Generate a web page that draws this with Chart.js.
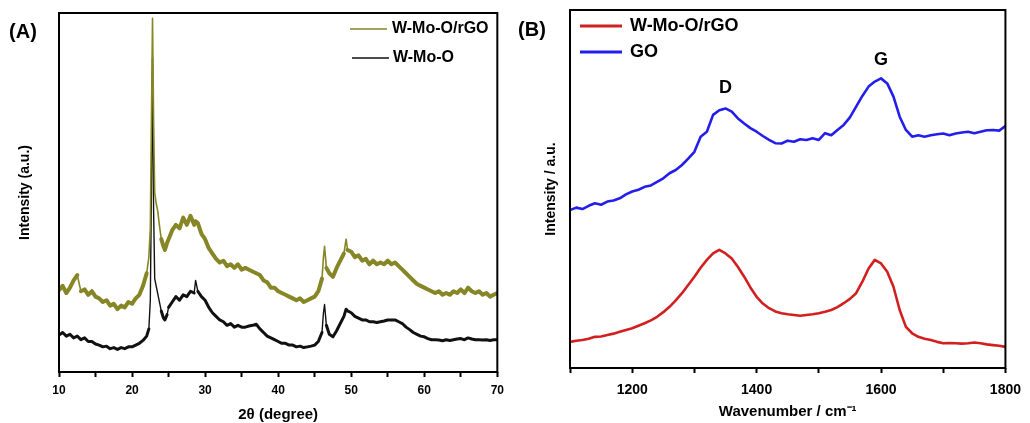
<!DOCTYPE html>
<html>
<head>
<meta charset="utf-8">
<script src="https://cdn.jsdelivr.net/npm/chart.js@4.4.0/dist/chart.umd.min.js"></script>
<style>
  html, body { margin: 0; padding: 0; background: #fff; }
  #wrap { position: relative; width: 1030px; height: 423px; overflow: hidden; }
  canvas { position: absolute; top: 0; }
</style>
</head>
<body>
<div id="wrap">
  <canvas id="xrd" width="510" height="423" style="left:0"></canvas>
  <canvas id="raman" width="520" height="423" style="left:510px"></canvas>
</div>
<script>
// ---- (A) XRD data, 2theta in degrees, intensity in arbitrary units ----
const xA = [
  10, 10.5, 11, 11.5, 12, 12.5, 13, 13.5, 14, 14.5, 15, 15.5, 16, 16.5, 17, 17.5, 18, 18.5, 19, 19.5, 20, 20.5, 21, 21.5, 22,
  22.3, 22.5, 22.65, 22.8, 22.95, 23.1, 23.3, 23.5, 23.8, 24, 24.3, 24.5, 24.8, 25,
  25.5, 26, 26.5, 27, 27.5, 28, 28.5, 28.7,
  29, 29.5, 30, 30.5, 31, 31.5, 32, 32.5, 33, 33.5, 34, 34.5, 35, 35.5, 36, 36.5, 37, 37.5, 38, 38.5, 39, 39.5, 40, 40.5, 41, 41.5, 42, 42.5, 43, 43.5, 44, 44.5, 45, 45.5, 46,
  46.2, 46.35, 46.6, 47, 47.5, 48, 48.5, 49, 49.3, 49.5, 50,
  50.5, 51, 51.5, 52, 52.5, 53, 53.5, 54, 54.5, 55, 55.5, 56, 56.5, 57, 57.5, 58, 58.5, 59, 59.5, 60, 60.5, 61, 61.5, 62, 62.5, 63, 63.5, 64, 64.5, 65, 65.5, 66, 66.5, 67, 67.5, 68, 68.5, 69, 69.5, 70
];
const rgoA = [
  22.8, 24, 22, 23.5, 25.5, 27, 22.5, 23, 21.5, 22.5, 21, 20.5, 19.5, 20, 18.5, 19, 17.5, 18.5, 18, 19.5, 19, 20.5, 21.5, 24, 27.5,
  32, 40, 70, 98.5, 70, 50, 47, 45, 40, 37, 35, 34, 36, 37,
  39.5, 41, 40, 43, 41, 43.5, 41, 42,
  41.5, 38.5, 37, 34.5, 33, 31.5, 30.5, 31, 29.5, 30, 29, 30, 28.5, 29, 28.5, 28, 27.5, 27, 25.5, 25, 23.5, 23.5, 22.5, 22, 21.5, 21, 20.5, 20, 20.5, 19.5, 20, 20.5, 21, 22.5, 26,
  32, 35, 29, 27.5, 26.5, 29, 31, 33, 37, 34, 33.5,
  32, 32.5, 31, 31.5, 30, 31, 30, 30.5, 30, 31, 30, 30.5, 29.5, 28.5, 27.5, 26.5, 25.5, 24.5, 24, 23.5, 23, 22.5, 22, 22.5, 21.5, 22, 21.5, 22.5, 22, 23, 22, 23.5, 22.5, 22, 22.5, 21.5, 22, 21, 21.5, 22
];
const wmoA = [
  10.3, 11, 10, 10.5, 9.5, 10, 9, 9.5, 8.5, 8.5, 7.8, 7.5, 7, 7.2, 6.5, 6.8, 6.3, 6.8, 6.5, 7, 7, 7.5, 8, 8.8, 10,
  12, 20, 50, 87.5, 45, 26, 24, 22, 19, 17, 15, 14.5, 16, 18,
  19.5, 21, 20, 21.5, 21, 22.5, 22, 25.5,
  22.5, 21, 20, 18, 16.5, 15.5, 14.5, 14, 13, 13.5, 12.5, 13, 12.5, 12.5, 12.8, 13, 13.3, 12, 11, 10, 9.5, 9, 8.5, 8, 8, 7.5, 7.5, 7, 7.2, 6.8, 7, 7.2, 7.5, 8.5, 11,
  16.5, 18.8, 13, 10.5, 9.8, 11.5, 13.5, 15.5, 17.5, 17, 16.5,
  15.5, 15, 14.5, 14.5, 14, 14, 13.8, 14, 14.2, 14.5, 14.5, 14.5, 14, 13.5, 12.5, 11.8, 11, 10.5, 10, 9.8, 9.3, 9, 9, 8.9, 8.7, 9, 8.8, 9, 9.2, 9.3, 9, 9.5, 9.2, 9, 9, 8.9, 9, 8.8, 9, 9
];

// ---- (B) Raman data, wavenumber in cm-1 ----
const xB = [
  1100, 1110, 1120, 1130, 1140, 1150, 1160, 1170, 1180, 1190, 1200, 1210, 1220, 1230, 1240, 1250, 1260, 1270, 1280, 1290,
  1300, 1310, 1320, 1330, 1340, 1350, 1360, 1370, 1380, 1390, 1400, 1410, 1420, 1430, 1440, 1450, 1460, 1470, 1480, 1490,
  1500, 1510, 1520, 1530, 1540, 1550, 1560, 1570, 1580, 1590, 1600, 1610, 1620, 1630, 1640, 1650, 1660, 1670, 1680, 1690,
  1700, 1710, 1720, 1730, 1740, 1750, 1760, 1770, 1780, 1790, 1800
];
const goB = [
  44.1, 44.8, 44.4, 45.3, 46.0, 45.6, 46.5, 46.8, 47.4, 48.5, 49.3, 49.8, 50.6, 51.0, 52.0, 53.0, 54.4, 55.3, 56.7, 58.5,
  60.4, 64.6, 66.0, 70.7, 72.0, 72.5, 71.6, 69.7, 68.3, 67.0, 66.0, 64.8, 63.7, 62.8, 62.7, 63.5, 63.2, 63.9, 63.7, 64.2,
  63.7, 65.6, 65.0, 66.5, 67.9, 70.0, 73.0, 76.0, 78.6, 80.0, 80.9, 79.5, 75.8, 70.2, 66.5, 64.6, 65.0, 64.6, 65.0, 65.3,
  65.5, 65.0, 65.5, 65.8, 66.0, 65.6, 66.0, 66.4, 66.5, 66.3, 67.6
];
const rgoB = [
  7.3, 7.6, 7.8, 8.2, 8.7, 8.8, 9.2, 9.6, 10.1, 10.6, 11.1, 11.8, 12.5, 13.3, 14.3, 15.6, 17.1, 18.9, 20.9, 23.2,
  25.5, 28.0, 30.2, 32.0, 33.0, 32.0, 30.6, 28.2, 25.5, 22.5, 19.9, 18.0, 16.7, 15.8, 15.3, 15.0, 14.8, 14.6, 14.8, 15.0,
  15.3, 15.7, 16.2, 17.0, 18.1, 19.3, 20.9, 24.1, 27.8, 30.2, 29.2, 26.9, 22.7, 16.2, 11.5, 9.7, 8.7, 8.2, 7.8, 7.3,
  6.9, 7.0, 6.9, 6.8, 6.9, 7.1, 6.9, 6.6, 6.4, 6.2, 5.9
];

const FONT = '"Liberation Sans", Arial, sans-serif';
const OLIVE = 'rgb(134,134,38)';
const RED = 'rgb(210,32,32)';
const BLUE = 'rgb(36,30,235)';

const pairs = (xs, ys) => xs.map((x, i) => ({ x: x, y: ys[i] }));

// the noisy traces read as a wide band, except on the sharp peaks where they are a thin stroke
const bandWidth = (wide, thin) => ctx => {
  const dx = Math.abs(ctx.p1.x - ctx.p0.x) || 0.01;
  const dy = Math.abs(ctx.p1.y - ctx.p0.y);
  return dy / dx > 4 ? thin : wide;
};

// frame round the plot area, hand-placed legend, panel letters and peak labels
const decor = {
  id: 'decor',
  afterDraw(chart, args, opts) {
    const ctx = chart.ctx;
    const a = chart.chartArea;
    ctx.save();
    ctx.strokeStyle = '#000';
    ctx.lineWidth = 2;
    ctx.strokeRect(a.left, a.top, a.right - a.left, a.bottom - a.top);
    ctx.textBaseline = 'middle';
    (opts.legend || []).forEach(it => {
      ctx.strokeStyle = it.color;
      ctx.lineWidth = it.lw;
      ctx.beginPath();
      ctx.moveTo(it.x1, it.y);
      ctx.lineTo(it.x2, it.y);
      ctx.stroke();
      ctx.fillStyle = '#000';
      ctx.textAlign = 'left';
      ctx.font = 'bold ' + it.size + 'px ' + FONT;
      ctx.fillText(it.text, it.tx, it.y);
    });
    (opts.notes || []).forEach(n => {
      let x = n.x, y = n.y;
      if (n.xv !== undefined) {
        x = chart.scales.x.getPixelForValue(n.xv);
        y = chart.scales.y.getPixelForValue(n.yv);
      }
      ctx.fillStyle = '#000';
      ctx.textAlign = 'center';
      ctx.font = 'bold ' + n.size + 'px ' + FONT;
      ctx.fillText(n.text, x, y);
    });
    ctx.restore();
  }
};

function makeOptions(o) {
  return {
    responsive: false,
    animation: false,
    events: [],
    layout: { padding: o.padding },
    elements: { point: { radius: 0 }, line: { tension: 0, borderJoinStyle: 'round', borderCapStyle: 'round' } },
    plugins: {
      legend: { display: false },
      tooltip: { enabled: false },
      decor: { legend: o.legend, notes: o.notes }
    },
    scales: {
      x: {
        type: 'linear',
        min: o.xmin,
        max: o.xmax,
        afterFit: s => { s.height = o.xh; },
        border: { display: false },
        grid: { drawOnChartArea: false, tickLength: 5, tickWidth: 2, tickColor: '#000' },
        ticks: {
          stepSize: o.step,
          autoSkip: false,
          maxRotation: 0,
          padding: o.tickPad,
          color: '#000',
          font: { family: FONT, size: o.tickSize, weight: 'bold' },
          callback: v => (v % o.labelEvery === 0 ? v : '')
        },
        title: {
          display: true,
          text: o.xtitle,
          color: '#000',
          font: { family: FONT, size: 15, weight: 'bold', lineHeight: 1 },
          padding: { top: 0, bottom: o.xtPad }
        }
      },
      y: {
        min: 0,
        max: 100,
        afterFit: s => { s.width = o.yw; },
        border: { display: false },
        grid: { display: false },
        ticks: { display: false },
        title: {
          display: true,
          text: o.ytitle,
          color: '#000',
          font: { family: FONT, size: 14, weight: 'bold', lineHeight: 1 },
          padding: { top: o.ytPad, bottom: 0 }
        }
      }
    }
  };
}

new Chart(document.getElementById('xrd'), {
  type: 'line',
  data: {
    datasets: [
      { label: 'W-Mo-O/rGO', data: pairs(xA, rgoA), borderColor: OLIVE, borderWidth: 4,
        segment: { borderWidth: bandWidth(4, 1.6) } },
      { label: 'W-Mo-O', data: pairs(xA, wmoA), borderColor: '#111', borderWidth: 3,
        segment: { borderWidth: bandWidth(3, 1.4) } }
    ]
  },
  options: makeOptions({
    padding: { left: 0, top: 13, right: 12, bottom: 0 },
    xmin: 10, xmax: 70, step: 5, labelEvery: 10,
    xh: 51, yw: 59, tickPad: 6, tickSize: 12, xtPad: 0.5, ytPad: 18.5,
    xtitle: '2θ (degree)', ytitle: 'Intensity (a.u.)',
    legend: [
      { text: 'W-Mo-O/rGO', color: OLIVE, lw: 1.5, x1: 350, x2: 387, tx: 392, y: 29, size: 16 },
      { text: 'W-Mo-O', color: '#111', lw: 1.5, x1: 352, x2: 389, tx: 393, y: 58, size: 16 }
    ],
    notes: [ { text: '(A)', x: 23, y: 32, size: 20 } ]
  }),
  plugins: [decor]
});

new Chart(document.getElementById('raman'), {
  type: 'line',
  data: {
    datasets: [
      { label: 'W-Mo-O/rGO', data: pairs(xB, rgoB), borderColor: RED, borderWidth: 2.6 },
      { label: 'GO', data: pairs(xB, goB), borderColor: BLUE, borderWidth: 2.6 }
    ]
  },
  options: makeOptions({
    padding: { left: 0, top: 10, right: 20, bottom: 0 },
    xmin: 1100, xmax: 1800, step: 100, labelEvery: 200,
    xh: 55, yw: 60, tickPad: 9, tickSize: 14, xtPad: 3.5, ytPad: 34,
    xtitle: 'Wavenumber / cm⁻¹', ytitle: 'Intensity / a.u.',
    legend: [
      { text: 'W-Mo-O/rGO', color: RED, lw: 3, x1: 70, x2: 112, tx: 120, y: 26, size: 18 },
      { text: 'GO', color: BLUE, lw: 3, x1: 70, x2: 112, tx: 120, y: 52, size: 18 }
    ],
    notes: [
      { text: '(B)', x: 22, y: 30, size: 20 },
      { text: 'D', xv: 1350, yv: 78.2, size: 18 },
      { text: 'G', xv: 1600, yv: 86, size: 18 }
    ]
  }),
  plugins: [decor]
});
</script>
</body>
</html>
